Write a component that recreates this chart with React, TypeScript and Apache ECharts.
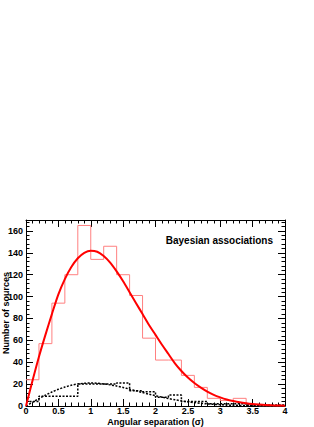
import React, { useEffect, useRef } from "react";
import * as echarts from "echarts";

// Bin edges (angular separation, sigma) of the histograms
const binEdges = [0, 0.2, 0.4, 0.6, 0.8, 1.0, 1.2, 1.4, 1.6, 1.8, 2.0, 2.2, 2.4, 2.6, 2.8, 3.0, 3.2, 3.4, 3.6, 3.8, 4.0];
// Red histogram: counts per bin
const redCounts = [24, 57, 94, 120, 165, 134, 146, 120, 101, 62, 42, 42, 28, 17, 7, 5, 7, 1, 0, 0];
// Black dotted histogram: counts per bin
const blackCounts = [4, 9, 9, 9, 20, 20, 20, 21, 14, 13, 8, 10, 4, 4, 2, 2, 2, 1, 1, 1];

// Fitted curves, read at these x positions
const curveX = [0, 0.1, 0.2, 0.3, 0.4, 0.5, 0.6, 0.7, 0.8, 0.9, 1.0, 1.1, 1.2, 1.3, 1.4, 1.5, 1.6, 1.7, 1.8, 1.9, 2.0,
  2.1, 2.2, 2.3, 2.4, 2.5, 2.6, 2.7, 2.8, 2.9, 3.0, 3.1, 3.2, 3.3, 3.4, 3.5, 3.6, 3.7, 3.8, 3.9, 4.0];
const redFit = [0, 23, 45, 65, 84, 102, 116, 127, 135, 140, 142, 141, 137, 131, 123, 114, 104, 94, 84, 74, 65,
  56, 47.5, 39, 32, 26, 21, 16.8, 13.2, 10.2, 7.9, 6, 4.6, 3.4, 2.5, 1.8, 1.3, 0.9, 0.65, 0.45, 0.3];
const blackFit = [0, 3.4, 6.8, 9.9, 12.8, 15.3, 17.3, 19.0, 20.1, 20.8, 21.0, 20.8, 20.2, 19.3, 18.2, 16.9, 15.4, 13.9, 12.3, 10.8, 9.4,
  8.1, 6.8, 5.7, 4.7, 3.8, 3.1, 2.5, 1.9, 1.5, 1.2, 0.9, 0.7, 0.5, 0.4, 0.3, 0.2, 0.15, 0.1, 0.07, 0.05];

const xTitle = "Angular separation (σ)";
const yTitle = "Number of sources";
const label = "Bayesian associations";

const FONT = "Liberation Sans, Arial, Helvetica, sans-serif";

function stepData(edges: number[], counts: number[]) {
  return edges.map((e, i) => [e, i < counts.length ? counts[i] : counts[counts.length - 1]]);
}

export default function App() {
  const ref = useRef<HTMLDivElement>(null);
  useEffect(() => {
    document.body.style.margin = "0";
    const chart = echarts.init(ref.current!, null, { renderer: "svg" });
    const axisLine = { show: true, onZero: false, lineStyle: { color: "#000", width: 1 } };
    const tick = { show: true, inside: true, length: 7, lineStyle: { color: "#000", width: 1 } };
    const minor = { show: true, splitNumber: 5, length: 3.5, lineStyle: { color: "#000", width: 1 } };
    const xCommon = {
      type: "value" as const,
      min: 0,
      max: 4,
      interval: 0.5,
      axisLine,
      splitLine: { show: false },
      axisTick: tick,
      minorTick: minor,
    };
    const yCommon = {
      type: "value" as const,
      min: 0,
      max: 170,
      interval: 20,
      axisLine,
      splitLine: { show: false },
      axisTick: tick,
      minorTick: minor,
    };
    chart.setOption({
      animation: false,
      grid: { left: 26, right: 29, top: 220, bottom: 21, containLabel: false, outerBoundsMode: "none" },
      xAxis: [
        {
          ...xCommon,
          position: "bottom",
          axisLabel: { fontFamily: FONT, fontWeight: "bold", fontSize: 9, color: "#000", margin: 0 },
          name: xTitle,
          nameLocation: "middle",
          nameGap: 11,
          nameMoveOverlap: false,
          nameTextStyle: { fontFamily: FONT, fontWeight: "bold", fontSize: 9, color: "#000", lineHeight: 9 },
        },
        { ...xCommon, position: "top", axisLabel: { show: false } },
      ],
      yAxis: [
        {
          ...yCommon,
          position: "left",
          axisLabel: { fontFamily: FONT, fontWeight: "bold", fontSize: 9, color: "#000", margin: 3, showMaxLabel: false },
          name: yTitle,
          nameLocation: "middle",
          nameGap: 16,
          nameMoveOverlap: false,
          nameRotate: 90,
          nameTextStyle: { fontFamily: FONT, fontWeight: "bold", fontSize: 9, color: "#000" },
        },
        { ...yCommon, position: "right", axisLabel: { show: false } },
      ],
      graphic: [
        {
          type: "text",
          right: 41,
          top: 235,
          style: { text: label, fontFamily: FONT, fontWeight: "bold", fontSize: 10, fill: "#000" },
        },
      ],
      series: [
        {
          type: "line",
          step: "end",
          data: stepData(binEdges, redCounts),
          symbol: "none",
          lineStyle: { color: "#ff8080", width: 1 },
          xAxisIndex: 0,
          yAxisIndex: 0,
        },
        {
          type: "line",
          step: "end",
          data: stepData(binEdges, blackCounts),
          symbol: "none",
          lineStyle: { color: "#000", width: 1.5, type: [2, 1.5] },
          xAxisIndex: 0,
          yAxisIndex: 0,
        },
        {
          type: "line",
          smooth: 0.3,
          data: curveX.map((x, i) => [x, blackFit[i]]),
          symbol: "none",
          lineStyle: { color: "#000", width: 1.5, type: [2, 1.5] },
          xAxisIndex: 0,
          yAxisIndex: 0,
        },
        {
          type: "line",
          smooth: 0.3,
          data: curveX.map((x, i) => [x, redFit[i]]),
          symbol: "none",
          lineStyle: { color: "#ff0000", width: 2 },
          xAxisIndex: 0,
          yAxisIndex: 0,
        },
      ],
    });
    return () => chart.dispose();
  }, []);
  return <div ref={ref} style={{ width: 314, height: 427 }} />;
}
